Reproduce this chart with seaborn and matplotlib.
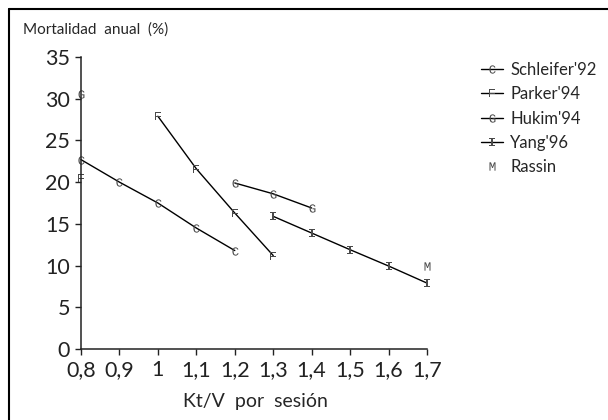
import numpy as np
import pandas as pd
import matplotlib
matplotlib.use("Agg")
import matplotlib.pyplot as plt
from matplotlib.lines import Line2D
import seaborn as sns

# ---- data ----
kt_v = [0.8, 0.9, 1.0, 1.1, 1.2, 1.3, 1.4, 1.5, 1.6, 1.7]
schleifer = [22.7, 20.0, 17.5, 14.5, 11.8, np.nan, np.nan, np.nan, np.nan, np.nan]
parker = [20.5, np.nan, 27.9, 21.6, 16.3, 11.2, np.nan, np.nan, np.nan, np.nan]
hukim = [30.6, np.nan, np.nan, np.nan, 19.9, 18.6, 16.9, np.nan, np.nan, np.nan]
yang = [np.nan, np.nan, np.nan, np.nan, np.nan, 15.9, 13.9, 11.9, 9.95, 7.9]
rassin = [np.nan, np.nan, np.nan, np.nan, np.nan, np.nan, np.nan, np.nan, np.nan, 9.9]

series_names = ["Schleifer'92", "Parker'94", "Hukim'94", "Yang'96", "Rassin"]
series_values = [schleifer, parker, hukim, yang, rassin]
series_letters = ["C", "F", "G", "I", "M"]
x_ticklabels = ["0,8", "0,9", "1", "1,1", "1,2", "1,3", "1,4", "1,5", "1,6", "1,7"]
y_ticks = [0, 5, 10, 15, 20, 25, 30, 35]

sns.set_style("white")
plt.rcParams["font.family"] = ["Lato", "DejaVu Sans"]
plt.rcParams["mathtext.fontset"] = "custom"
plt.rcParams["mathtext.tt"] = "Liberation Mono"

fig = plt.figure(figsize=(6.08, 4.2), dpi=100)
ax = fig.add_axes([81 / 608, 1 - 349 / 420, (427 - 81) / 608, (349 - 57) / 420])

mcol = "#4a4a4a"
handles = []
for name, vals, letter in zip(series_names, series_values, series_letters):
    vals = np.array(vals, dtype=float)
    seg = np.cumsum(np.isnan(vals))
    df = pd.DataFrame({"x": kt_v, "y": vals, "seg": seg}).dropna()
    marker = r"$\mathtt{" + letter + "}$"
    sns.lineplot(data=df, x="x", y="y", units="seg", estimator=None, sort=False,
                 color="black", linewidth=1.0, marker=marker, markersize=6,
                 markerfacecolor=mcol, markeredgecolor=mcol, markeredgewidth=0,
                 legend=False, clip_on=False, ax=ax)
    ls = "none" if name == "Rassin" else "-"
    handles.append(Line2D([], [], color="black", lw=1.0, linestyle=ls, marker=marker,
                          markersize=6, markerfacecolor=mcol, markeredgecolor=mcol,
                          markeredgewidth=0, label=name))

ax.set_xlim(0.8, 1.7)
ax.set_ylim(0, 35)
ax.set_xticks(kt_v)
ax.set_xticklabels(x_ticklabels)
ax.set_yticks(y_ticks)
ax.set_yticklabels([str(v) for v in y_ticks])
ax.set_xlabel("")
ax.set_ylabel("")
ax.tick_params(axis="both", labelsize=15.5, length=4, width=1, colors="#222222",
               direction="out", left=True, bottom=True, pad=4)
for s in ["top", "right"]:
    ax.spines[s].set_visible(False)
for s in ["left", "bottom"]:
    ax.spines[s].set_color("#222222")
    ax.spines[s].set_linewidth(1.1)

leg = fig.legend(handles=handles, loc="upper left", bbox_to_anchor=(481 / 608, 1 - 62 / 420),
                 frameon=False, fontsize=12, handlelength=1.3, handletextpad=0.45,
                 labelspacing=0.5, borderpad=0, borderaxespad=0)

fig.text(23 / 608, 1 - 30 / 420, "Mortalidad  anual  (%)", fontsize=11, va="center", ha="left")
fig.text(255 / 608, 1 - 401 / 420, "Kt/V  por  sesión", fontsize=14, va="center", ha="center")

# outer frame (left and top edges)
fig.add_artist(Line2D([9 / 608, 9 / 608], [0, 1 - 9 / 420], color="black", lw=1.5,
                      transform=fig.transFigure))
fig.add_artist(Line2D([9 / 608, 1], [1 - 9 / 420, 1 - 9 / 420], color="black", lw=1.5,
                      transform=fig.transFigure))

fig.savefig("out.png", dpi=100, facecolor="white")
